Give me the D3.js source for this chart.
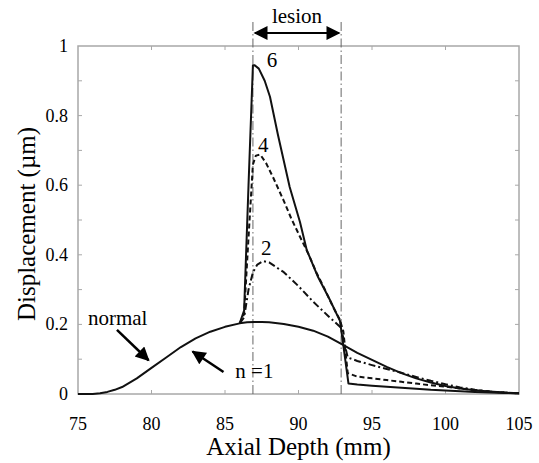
<!DOCTYPE html>
<html>
<head>
<script src="https://d3js.org/d3.v7.min.js"></script>
<style>
  body { margin: 0; background: #fff; }
</style>
</head>
<body>
<div id="chart"></div>
<script>
const width = 539, height = 463;
const margin = {top: 46, right: 20, bottom: 69, left: 78};
const serif = "Liberation Serif, Times New Roman, serif";

// axis depth (mm) and displacement (µm)
const xNormal = [75, 76, 76.5, 77, 77.5, 78, 79, 80, 81, 82, 83, 84, 85, 86, 86.5, 87, 87.5, 88, 89, 90, 91, 92, 93, 94, 95, 96, 97, 98, 99, 100, 101, 102, 103, 104, 105];
const yNormal = [0, 0, 0.002, 0.006, 0.012, 0.02, 0.045, 0.075, 0.105, 0.135, 0.16, 0.179, 0.193, 0.203, 0.206, 0.207, 0.207, 0.206, 0.201, 0.193, 0.182, 0.165, 0.142, 0.118, 0.098, 0.078, 0.06, 0.045, 0.033, 0.023, 0.016, 0.011, 0.007, 0.004, 0.002];

const xN2 = [86, 86.3, 86.6, 86.9, 87.2, 87.6, 88, 89, 90, 91, 92, 92.9, 93.1, 93.35, 94, 95, 96, 97, 98, 99, 100, 101, 102, 103, 104, 105];
const yN2 = [0.203, 0.22, 0.3, 0.35, 0.372, 0.382, 0.378, 0.35, 0.31, 0.265, 0.225, 0.19, 0.15, 0.105, 0.095, 0.083, 0.072, 0.061, 0.049, 0.038, 0.028, 0.019, 0.012, 0.007, 0.004, 0.002];

const xN4 = [86, 86.3, 86.6, 86.9, 87.1, 87.4, 87.8, 88.3, 89, 89.5, 90.1, 90.7, 91.24, 91.8, 92.35, 92.8, 93.05, 93.35, 94, 95, 96, 97, 98, 99, 100, 101, 102, 103, 104, 105];
const yN4 = [0.203, 0.23, 0.45, 0.66, 0.685, 0.688, 0.663, 0.62, 0.555, 0.505, 0.452, 0.4, 0.347, 0.3, 0.25, 0.215, 0.18, 0.06, 0.05, 0.045, 0.04, 0.035, 0.03, 0.025, 0.021, 0.016, 0.011, 0.007, 0.004, 0.002];

const xN6 = [86, 86.3, 86.6, 86.9, 87.0, 87.3, 87.7, 88.06, 88.6, 89.4, 90.1, 90.56, 91.33, 92.14, 92.82, 93.05, 93.4, 94, 95, 96, 97, 98, 99, 100, 101, 102, 103, 104, 105];
const yN6 = [0.203, 0.24, 0.6, 0.945, 0.945, 0.935, 0.9, 0.854, 0.745, 0.595, 0.494, 0.414, 0.336, 0.27, 0.21, 0.14, 0.03, 0.027, 0.024, 0.021, 0.018, 0.015, 0.012, 0.01, 0.008, 0.006, 0.004, 0.003, 0.002];

const xTicks = [75, 80, 85, 90, 95, 100, 105];
const yTicks = [0, 0.1, 0.2, 0.3, 0.4, 0.5, 0.6, 0.7, 0.8, 0.9, 1];
const yLabels = [0, 0.2, 0.4, 0.6, 0.8, 1];
const lesion = [86.9, 92.9];

const series = [
  {x: xNormal, y: yNormal, dash: null},
  {x: xN2, y: yN2, dash: "7,3,2,3"},
  {x: xN4, y: yN4, dash: "5,3"},
  {x: xN6, y: yN6, dash: null}
];

const svg = d3.select("#chart").append("svg")
  .attr("width", width).attr("height", height)
  .attr("font-family", serif);

const x = d3.scaleLinear().domain([75, 105]).range([margin.left, width - margin.right]);
const y = d3.scaleLinear().domain([0, 1]).range([height - margin.bottom, margin.top]);

const defs = svg.append("defs");
defs.append("marker").attr("id", "head")
  .attr("viewBox", "0 0 10 10").attr("refX", 9).attr("refY", 5)
  .attr("markerWidth", 16).attr("markerHeight", 14).attr("markerUnits", "userSpaceOnUse")
  .attr("orient", "auto-start-reverse")
  .append("path").attr("d", "M0,0 L10,5 L0,10 Z").attr("fill", "#000");

// frame
const frameColor = "#a8a8a8";
svg.append("rect")
  .attr("x", x(75)).attr("y", y(1))
  .attr("width", x(105) - x(75)).attr("height", y(0) - y(1))
  .attr("fill", "none").attr("stroke", frameColor).attr("stroke-width", 1.5);

const tickLen = 4;
const g = svg.append("g").attr("stroke", frameColor).attr("stroke-width", 1);
xTicks.slice(1, -1).forEach(t => {
  g.append("line").attr("x1", x(t)).attr("x2", x(t)).attr("y1", y(0)).attr("y2", y(0) - tickLen);
  g.append("line").attr("x1", x(t)).attr("x2", x(t)).attr("y1", y(1)).attr("y2", y(1) + tickLen);
});
yTicks.slice(1, -1).forEach(t => {
  g.append("line").attr("x1", x(75)).attr("x2", x(75) + tickLen).attr("y1", y(t)).attr("y2", y(t));
  g.append("line").attr("x1", x(105)).attr("x2", x(105) - tickLen).attr("y1", y(t)).attr("y2", y(t));
});

svg.selectAll(".xl").data(xTicks).join("text")
  .attr("font-family", serif)
  .attr("x", d => x(d)).attr("y", y(0) + 36)
  .attr("text-anchor", "middle").attr("font-size", 18).text(d => d);
svg.selectAll(".yl").data(yLabels).join("text")
  .attr("font-family", serif)
  .attr("x", x(75) - 10).attr("y", d => y(d) + 6)
  .attr("text-anchor", "end").attr("font-size", 18).text(d => d);

svg.append("text").attr("x", (x(75) + x(105)) / 2).attr("y", 455)
  .attr("font-family", serif)
  .attr("text-anchor", "middle").attr("font-size", 25).text("Axial Depth (mm)");
svg.append("text").attr("transform", `translate(35,${(y(0) + y(1)) / 2 + 4}) rotate(-90)`)
  .attr("font-family", serif)
  .attr("text-anchor", "middle").attr("font-size", 25).text("Displacement (\u00b5m)");

// lesion boundaries
svg.selectAll(".lesion").data(lesion).join("line")
  .attr("x1", d => x(d)).attr("x2", d => x(d))
  .attr("y1", 22).attr("y2", y(0))
  .attr("stroke", "#666").attr("stroke-width", 1)
  .attr("stroke-dasharray", "9,3,1.5,3");

// curves
const line = d3.line().x(d => x(d[0])).y(d => y(d[1]));
series.forEach(s => {
  svg.append("path")
    .datum(s.x.map((v, i) => [v, s.y[i]]))
    .attr("d", line)
    .attr("fill", "none").attr("stroke", "#111").attr("stroke-width", 2)
    .attr("stroke-linejoin", "round")
    .attr("stroke-dasharray", s.dash);
});

// annotations
svg.append("line")
  .attr("x1", x(lesion[0]) + 2).attr("x2", x(lesion[1]) - 2)
  .attr("y1", 33).attr("y2", 33)
  .attr("stroke", "#000").attr("stroke-width", 2)
  .attr("marker-start", "url(#head)").attr("marker-end", "url(#head)");
svg.append("text").attr("x", (x(lesion[0]) + x(lesion[1])) / 2).attr("y", 23)
  .attr("font-family", serif)
  .attr("text-anchor", "middle").attr("font-size", 21).text("lesion");

const labels = [
  {t: "6", x: 88.2, y: 0.94},
  {t: "4", x: 87.6, y: 0.696},
  {t: "2", x: 87.8, y: 0.4},
  {t: "normal", x: 77.7, y: 0.198},
  {t: "n =1", x: 87.0, y: 0.046}
];
svg.selectAll(".lab").data(labels).join("text")
  .attr("font-family", serif)
  .attr("x", d => x(d.x)).attr("y", d => y(d.y))
  .attr("text-anchor", "middle").attr("font-size", 21).text(d => d.t);

const arrows = [
  {x1: 77.65, y1: 0.184, x2: 79.8, y2: 0.097},
  {x1: 84.9, y1: 0.063, x2: 82.8, y2: 0.122}
];
svg.selectAll(".arr").data(arrows).join("line")
  .attr("x1", d => x(d.x1)).attr("y1", d => y(d.y1))
  .attr("x2", d => x(d.x2)).attr("y2", d => y(d.y2))
  .attr("stroke", "#000").attr("stroke-width", 2.5)
  .attr("marker-end", "url(#head)");
</script>
</body>
</html>
